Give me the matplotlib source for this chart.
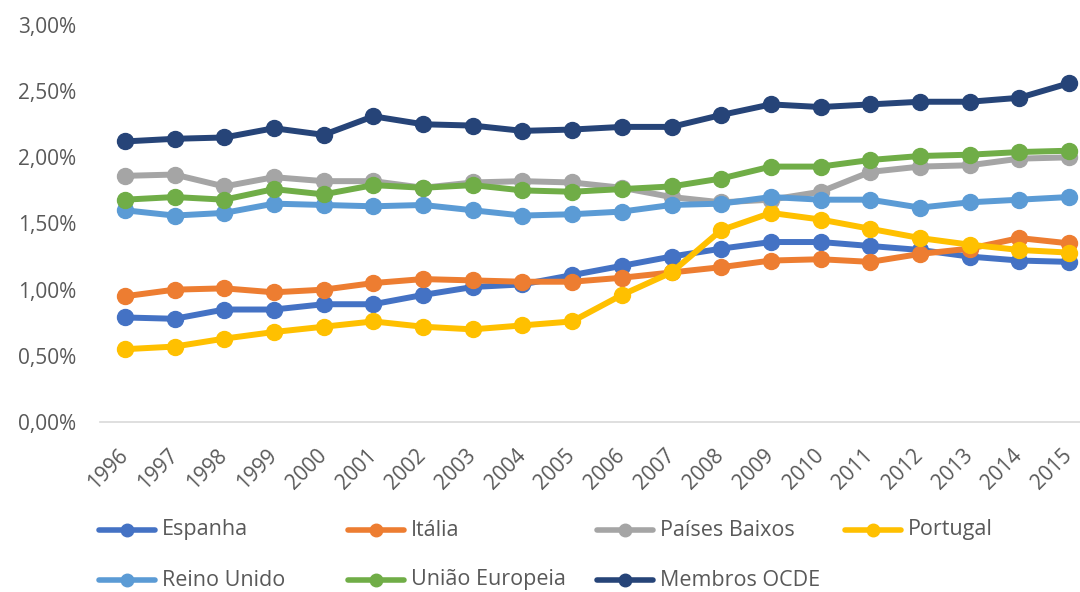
import matplotlib

matplotlib.use("Agg")
import matplotlib.pyplot as plt
from matplotlib.lines import Line2D
from matplotlib.ticker import FuncFormatter

plt.rcParams["font.family"] = ["Open Sans", "DejaVu Sans"]

YEARS = [str(y) for y in range(1996, 2016)]

ESPANHA = [0.79, 0.78, 0.85, 0.85, 0.89, 0.89, 0.96, 1.02, 1.04, 1.11,
           1.18, 1.25, 1.31, 1.36, 1.36, 1.33, 1.30, 1.25, 1.22, 1.21]
ITALIA = [0.95, 1.00, 1.01, 0.98, 1.00, 1.05, 1.08, 1.07, 1.06, 1.06,
          1.09, 1.13, 1.17, 1.22, 1.23, 1.21, 1.27, 1.31, 1.39, 1.35]
PAISES_BAIXOS = [1.86, 1.87, 1.78, 1.85, 1.82, 1.82, 1.77, 1.81, 1.82, 1.81,
                 1.77, 1.70, 1.66, 1.68, 1.74, 1.89, 1.93, 1.94, 1.99, 2.00]
PORTUGAL = [0.55, 0.57, 0.63, 0.68, 0.72, 0.76, 0.72, 0.70, 0.73, 0.76,
            0.96, 1.13, 1.45, 1.58, 1.53, 1.46, 1.39, 1.34, 1.30, 1.28]
REINO_UNIDO = [1.60, 1.56, 1.58, 1.65, 1.64, 1.63, 1.64, 1.60, 1.56, 1.57,
               1.59, 1.64, 1.65, 1.70, 1.68, 1.68, 1.62, 1.66, 1.68, 1.70]
UNIAO_EUROPEIA = [1.68, 1.70, 1.68, 1.76, 1.72, 1.79, 1.77, 1.79, 1.75, 1.74,
                  1.76, 1.78, 1.84, 1.93, 1.93, 1.98, 2.01, 2.02, 2.04, 2.05]
MEMBROS_OCDE = [2.12, 2.14, 2.15, 2.22, 2.17, 2.31, 2.25, 2.24, 2.20, 2.21,
                2.23, 2.23, 2.32, 2.40, 2.38, 2.40, 2.42, 2.42, 2.45, 2.56]

SERIES = [
    ("Espanha", ESPANHA, "#4472C4"),
    ("Itália", ITALIA, "#ED7D31"),
    ("Países Baixos", PAISES_BAIXOS, "#A5A5A5"),
    ("Portugal", PORTUGAL, "#FFC000"),
    ("Reino Unido", REINO_UNIDO, "#5B9BD5"),
    ("União Europeia", UNIAO_EUROPEIA, "#70AD47"),
    ("Membros OCDE", MEMBROS_OCDE, "#264478"),
]

TEXT_COLOR = "#595959"

fig = plt.figure(figsize=(10.8, 5.92), dpi=100)
ax = fig.add_axes([100 / 1080, 170 / 592, 980 / 1080, 397 / 592])

xs = list(range(len(YEARS)))
for name, vals, color in SERIES:
    ax.plot(xs, [v / 100 for v in vals], color=color, lw=4.3, marker="o",
            ms=11.5, solid_capstyle="round", clip_on=False)

ax.set_xlim(-0.5, 19.22)
ax.set_ylim(0, 0.03)
ax.set_yticks([0, 0.005, 0.01, 0.015, 0.02, 0.025, 0.03])
ax.yaxis.set_major_formatter(FuncFormatter(lambda v, _: f"{v * 100:.2f}%".replace(".", ",")))
ax.set_xticks(xs)
ax.set_xticklabels(YEARS, rotation=45, ha="right", va="center", rotation_mode="anchor")

for side in ("top", "right", "left"):
    ax.spines[side].set_visible(False)
ax.spines["bottom"].set_color("#D9D9D9")
ax.spines["bottom"].set_linewidth(1.2)
ax.tick_params(axis="y", length=0, pad=17, labelsize=15, labelcolor=TEXT_COLOR)
ax.tick_params(axis="x", length=0, pad=22, labelsize=15, labelcolor=TEXT_COLOR)

# legend laid out like Excel: 4 fixed columns, two rows
col_x = [99, 348, 597, 845]
row_y = [530, 580]
for i, (name, vals, color) in enumerate(SERIES):
    x0 = col_x[i % 4]
    y0 = row_y[i // 4]
    fy = 1 - y0 / 592
    fig.add_artist(Line2D([x0 / 1080, (x0 + 56) / 1080], [fy, fy], color=color,
                          lw=4, solid_capstyle="round", transform=fig.transFigure))
    fig.add_artist(Line2D([(x0 + 28) / 1080], [fy], color=color, marker="o", ms=9,
                          lw=0, transform=fig.transFigure))
    fig.text((x0 + 63) / 1080, fy, name, fontsize=15.5, color=TEXT_COLOR,
             ha="left", va="center")

fig.savefig("out.png", dpi=100)
